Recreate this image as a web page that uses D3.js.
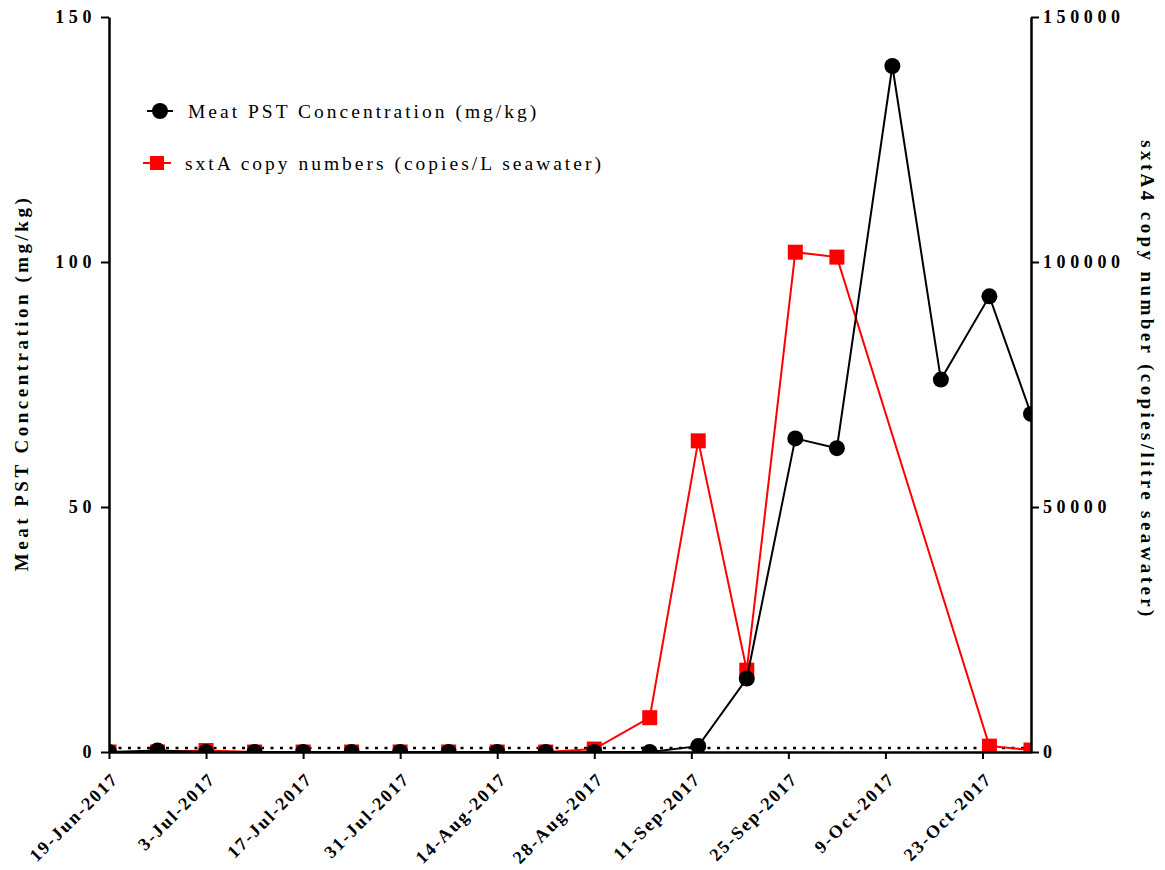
<!DOCTYPE html>
<html>
<head>
<meta charset="utf-8">
<script src="https://cdn.jsdelivr.net/npm/d3@7"></script>
<style>
  html, body { margin: 0; padding: 0; background: #fff; }
  svg { display: block; }
  text { font-family: "Liberation Serif", "Times New Roman", serif; }
</style>
</head>
<body>
<svg id="chart" width="1165" height="870"></svg>
<script>
// Sampling dates (weekly) and measurements
const pstDates = ["2017-06-19","2017-06-26","2017-07-03","2017-07-10","2017-07-17","2017-07-24",
  "2017-07-31","2017-08-07","2017-08-14","2017-08-21","2017-08-28","2017-09-05","2017-09-12",
  "2017-09-19","2017-09-26","2017-10-02","2017-10-10","2017-10-17","2017-10-24","2017-10-30"];
const pstValues = [0, 0.3, 0, 0, 0, 0, 0, 0, 0, 0, 0, 0, 1.2,
  15, 64, 62, 140, 76, 93, 69];

const sxtDates = ["2017-06-19","2017-06-26","2017-07-03","2017-07-10","2017-07-17","2017-07-24",
  "2017-07-31","2017-08-07","2017-08-14","2017-08-21","2017-08-28","2017-09-05","2017-09-12",
  "2017-09-19","2017-09-26","2017-10-02","2017-10-24","2017-10-30"];
const sxtValues = [0, 0, 300, 0, 0, 0, 0, 0, 0, 0, 600, 7000, 63500,
  16700, 102000, 101000, 1200, 400];

const xTickDates = ["2017-06-19","2017-07-03","2017-07-17","2017-07-31","2017-08-14",
  "2017-08-28","2017-09-11","2017-09-25","2017-10-09","2017-10-23"];
const leftTicks = [0, 50, 100, 150];
const rightTicks = [0, 50000, 100000, 150000];
const regulatoryLimit = 0.8; // mg/kg

const legendLabels = ["Meat PST Concentration (mg/kg)", "sxtA copy numbers (copies/L seawater)"];
const leftTitle = "Meat PST Concentration (mg/kg)";
const rightTitle = "sxtA4 copy number (copies/litre seawater)";

const parse = d3.timeParse("%Y-%m-%d");
const fmt = d3.timeFormat("%-d-%b-%Y");

const svg = d3.select("#chart");
const plot = { left: 109, right: 1031, top: 17, bottom: 752 };

const x = d3.scaleTime()
  .domain([parse("2017-06-19"), parse("2017-10-30")])
  .range([plot.left, plot.right]);
const yL = d3.scaleLinear().domain([0, 150]).range([plot.bottom, plot.top]);
const yR = d3.scaleLinear().domain([0, 150000]).range([plot.bottom, plot.top]);

svg.append("defs").append("clipPath").attr("id", "clip")
  .append("rect").attr("x", plot.left).attr("y", 0)
  .attr("width", plot.right - plot.left).attr("height", plot.bottom);

// regulatory limit (dotted)
svg.append("line")
  .attr("x1", plot.left).attr("x2", plot.right)
  .attr("y1", yL(regulatoryLimit)).attr("y2", yL(regulatoryLimit))
  .attr("stroke", "#000").attr("stroke-width", 2.5).attr("stroke-dasharray", "3,6.5");

const g = svg.append("g").attr("clip-path", "url(#clip)");

// sxtA series
const sxt = sxtDates.map((d, i) => ({ d: parse(d), v: sxtValues[i] }));
g.append("path").datum(sxt)
  .attr("fill", "none").attr("stroke", "#ff0000").attr("stroke-width", 2)
  .attr("d", d3.line().x(p => x(p.d)).y(p => yR(p.v)));
const sq = 15;
g.selectAll("rect.sxt").data(sxt).join("rect").attr("class", "sxt")
  .attr("x", p => x(p.d) - sq / 2).attr("y", p => yR(p.v) - sq / 2)
  .attr("width", sq).attr("height", sq).attr("fill", "#ff0000");

// PST series
const pst = pstDates.map((d, i) => ({ d: parse(d), v: pstValues[i] }));
g.append("path").datum(pst)
  .attr("fill", "none").attr("stroke", "#000").attr("stroke-width", 2)
  .attr("d", d3.line().x(p => x(p.d)).y(p => yL(p.v)));
g.selectAll("circle.pst").data(pst).join("circle").attr("class", "pst")
  .attr("cx", p => x(p.d)).attr("cy", p => yL(p.v)).attr("r", 8).attr("fill", "#000");

// axes
const axisStyle = sel => {
  sel.select(".domain").attr("stroke", "#000").attr("stroke-width", 2.5);
  sel.selectAll(".tick line").attr("stroke", "#000").attr("stroke-width", 2);
  sel.selectAll(".tick text").attr("fill", "#000")
    .style("font-family", '"Liberation Serif", serif')
    .style("font-weight", "bold").style("font-size", "18px").style("letter-spacing", "4.6px");
};

const xAxis = svg.append("g").attr("transform", `translate(0,${plot.bottom})`)
  .call(d3.axisBottom(x).tickValues(xTickDates.map(parse)).tickFormat(fmt)
    .tickSize(7).tickSizeOuter(0));
axisStyle(xAxis);
xAxis.selectAll(".tick text")
  .style("font-size", "18px").style("letter-spacing", "2px")
  .attr("text-anchor", "end").attr("dy", null).attr("y", 0)
  .attr("transform", "translate(10,28) rotate(-45)");

const yAxisL = svg.append("g").attr("transform", `translate(${plot.left},0)`)
  .call(d3.axisLeft(yL).tickValues(leftTicks).tickSize(8).tickSizeOuter(0).tickPadding(5));
axisStyle(yAxisL);

const yAxisR = svg.append("g").attr("transform", `translate(${plot.right},0)`)
  .call(d3.axisRight(yR).tickValues(rightTicks).tickFormat(d3.format("d"))
    .tickSize(8).tickSizeOuter(0).tickPadding(4));
axisStyle(yAxisR);

// axis titles
svg.append("text")
  .attr("transform", `translate(28,${383}) rotate(-90)`)
  .attr("text-anchor", "middle")
  .style("font-weight", "bold").style("font-size", "19px").style("letter-spacing", "3.5px")
  .text(leftTitle);

svg.append("text")
  .attr("transform", `translate(1141,${380}) rotate(90)`)
  .attr("text-anchor", "middle")
  .style("font-weight", "bold").style("font-size", "19px").style("letter-spacing", "3.4px")
  .text(rightTitle);

// legend
const leg = svg.append("g");
const l1 = leg.append("g").attr("transform", "translate(160,111)");
l1.append("line").attr("x1", -13).attr("x2", 13).attr("stroke", "#000").attr("stroke-width", 2);
l1.append("circle").attr("r", 8).attr("fill", "#000");
l1.append("text").attr("x", 28).attr("dy", "0.35em")
  .style("font-size", "19.5px").style("letter-spacing", "3px").text(legendLabels[0]);

const l2 = leg.append("g").attr("transform", "translate(157,163)");
l2.append("line").attr("x1", -14).attr("x2", 14).attr("stroke", "#ff0000").attr("stroke-width", 2);
l2.append("rect").attr("x", -7).attr("y", -7).attr("width", 14).attr("height", 14).attr("fill", "#ff0000");
l2.append("text").attr("x", 28).attr("dy", "0.35em")
  .style("font-size", "19.5px").style("letter-spacing", "3px").text(legendLabels[1]);
</script>
</body>
</html>
